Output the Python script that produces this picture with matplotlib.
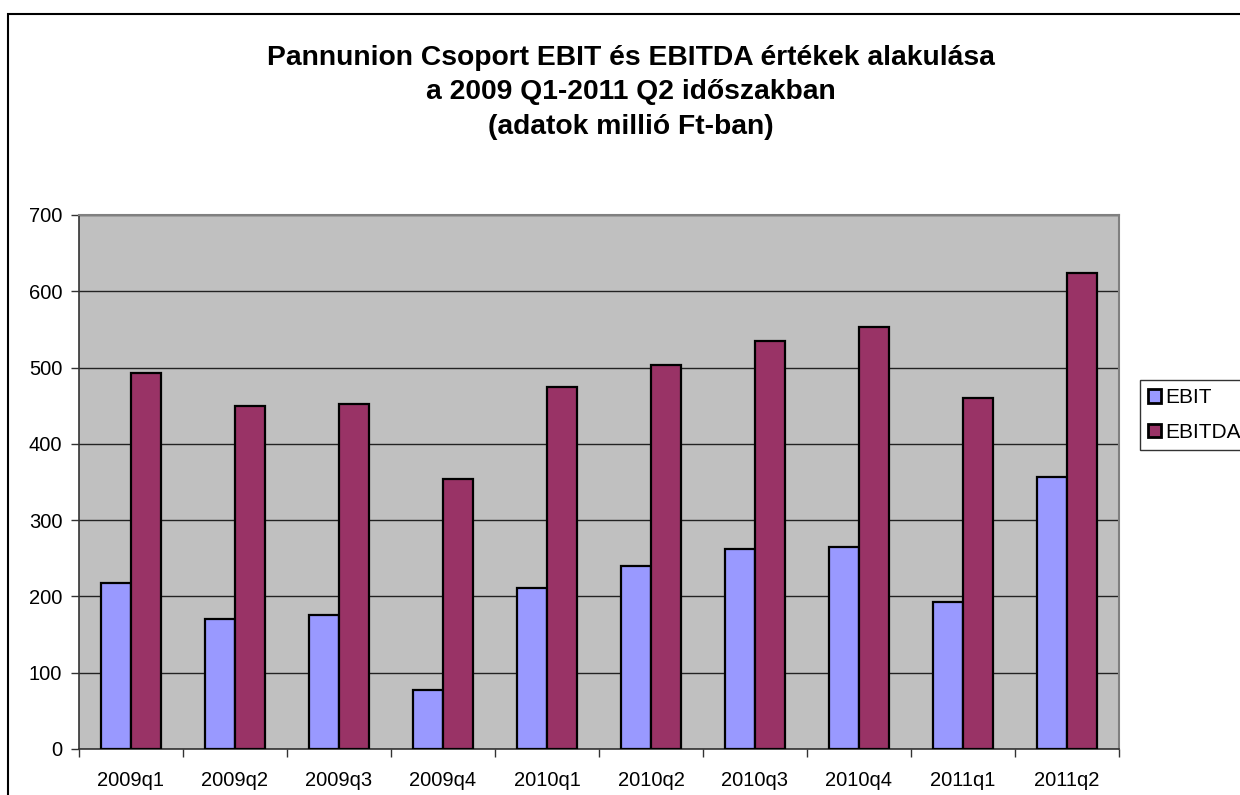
import numpy as np
import matplotlib.pyplot as plt
from matplotlib.patches import Rectangle

## Quarterly values (million Ft)
quarters = ['2009q1', '2009q2', '2009q3', '2009q4', '2010q1',
            '2010q2', '2010q3', '2010q4', '2011q1', '2011q2']
ebit = [218, 171, 176, 77, 211, 240, 262, 265, 193, 356]
ebitda = [493, 450, 452, 354, 474, 504, 535, 553, 460, 624]

title_lines = ['Pannunion Csoport EBIT és EBITDA értékek alakulása',
               'a 2009 Q1-2011 Q2 időszakban',
               '(adatok millió Ft-ban)']

plt.rcParams['font.family'] = ['Liberation Sans', 'DejaVu Sans']

W, H = 1240, 795
fig = plt.figure(figsize=(W / 100, H / 100), dpi=100)
ax = fig.add_axes([79 / W, 1 - 749 / H, (1119 - 79) / W, (749 - 215) / H])

x = np.arange(len(quarters))
bw = 0.285
ax.bar(x - bw / 2, ebit, bw, color='#9999FF', edgecolor='black', linewidth=1.6, label='EBIT', zorder=3)
ax.bar(x + bw / 2, ebitda, bw, color='#993366', edgecolor='black', linewidth=1.6, label='EBITDA', zorder=3)

ax.set_facecolor('#C0C0C0')
ax.set_xlim(-0.5, len(quarters) - 0.5)
ax.set_ylim(0, 700)
ax.set_yticks(range(0, 701, 100))
ax.yaxis.grid(True, color='#222222', linewidth=1.0, zorder=1)

ax.set_xticks(x)
ax.set_xticklabels(quarters)
ax.set_xticks(np.arange(-0.5, len(quarters), 1.0), minor=True)
ax.tick_params(axis='x', which='major', length=0, pad=16, labelsize=14.5)
ax.tick_params(axis='x', which='minor', length=6, width=1, color='#333333')
ax.tick_params(axis='y', length=6, width=1, color='#333333', pad=6, labelsize=14.5)

for side in ['top', 'right']:
    ax.spines[side].set_color('#808080')
    ax.spines[side].set_linewidth(1.5)
for side in ['left', 'bottom']:
    ax.spines[side].set_color('#333333')
    ax.spines[side].set_linewidth(1.2)

fig.text(631 / W, 1 - 45 / H, '\n'.join(title_lines), ha='center', va='top',
         fontsize=20.3, fontweight='bold', linespacing=1.42)

leg = ax.legend(loc='upper left', bbox_to_anchor=(1140 / W, 1 - 380 / H),
                bbox_transform=fig.transFigure, frameon=True, fancybox=False,
                fontsize=15, handlelength=0.6, handleheight=0.6, handletextpad=0.2,
                borderpad=0.4, labelspacing=0.75, borderaxespad=0)
leg.get_frame().set_edgecolor('black')
leg.get_frame().set_linewidth(1.0)
for h in leg.legend_handles:
    h.set_linewidth(2.0)

## outer chart border (runs off the right and bottom edges)
fig.patches.append(Rectangle((8 / W, -0.1), 1.2, 1 - 14 / H + 0.1, transform=fig.transFigure,
                             fill=False, edgecolor='black', linewidth=1.5))

fig.savefig('out.png', dpi=100)
